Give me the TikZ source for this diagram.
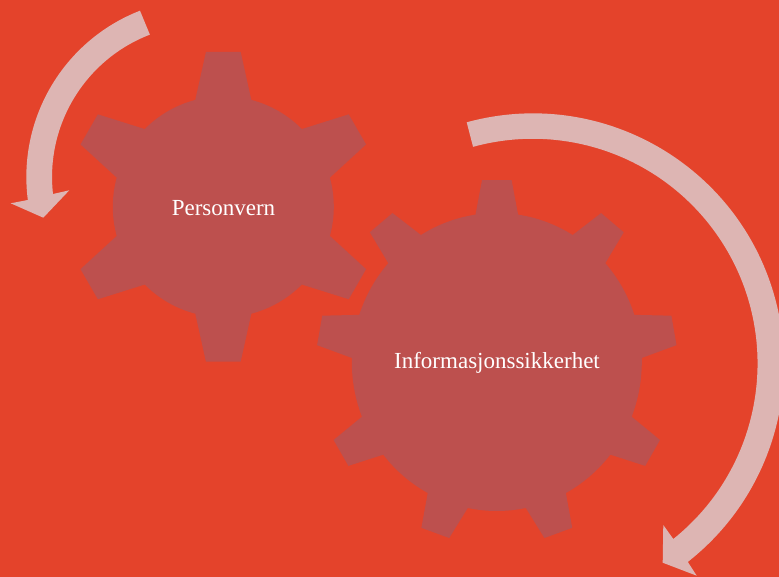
\documentclass[tikz,border=0pt]{standalone}
\usepackage{fontspec}
\setmainfont{Liberation Serif}
\definecolor{bgred}{HTML}{E4432B}
\definecolor{gearred}{HTML}{BD504E}
\definecolor{arrowpink}{HTML}{DDB5B3}
\tikzset{
  gearbody/.style={fill=gearred},
  turnarrow/.style={fill=arrowpink},
  gearlabel/.style={text=white,anchor=base,inner sep=0pt,font=\fontsize{23}{27}\selectfont}
}
% teeth list, step, body x radius, body y radius, tip radii, half angle at base, half angle at tip
\newcommand{\gearoutline}[7]{
  ({-90-#6}:#3 and #4)
  foreach \a in {#1} {
    -- ({\a-#6}:#3 and #4) -- ({\a-#7}:#5) -- ({\a+#7}:#5) -- ({\a+#6}:#3 and #4)
    arc[start angle=\a+#6,end angle=\a+#2-#6,x radius=#3,y radius=#4]
  } -- cycle
}

\begin{document}
\begin{tikzpicture}[x=1pt,y=-1pt]
  \useasboundingbox (0,0) rectangle (779,577);
  \clip (0,0) rectangle (779,577);
  \fill[bgred] (0,0) rectangle (779,577);

  \begin{scope}[shift={(223.3,206.8)}]
    \fill[gearbody] \gearoutline{-90,-30,...,210}{60}{110.5}{110.5}{155.8 and 155.8}{14.7}{6.4};
  \end{scope}
  \begin{scope}[shift={(496.8,362)}]
    \fill[gearbody] \gearoutline{-90,-50,...,230}{40}{145}{149}{180.5 and 182.5}{8.45}{4.7};
  \end{scope}

  \fill[turnarrow] (140,10.7) arc[start angle=248.7,end angle=172.6,radius=178.5]
    -- (10.7,203.3) -- (43.3,217.7) -- (69.3,190.3) -- (53,194)
    arc[start angle=173.6,end angle=249,radius=152.5] -- cycle;
  \fill[turnarrow] (466.7,122.3) arc[start angle=-105.3,end angle=51.9,radius=251]
    -- (696.7,575.7) -- (662.7,562.7) -- (663.3,525) -- (673.3,539)
    arc[start angle=51.3,end angle=-105.4,radius=224.8] -- cycle;

  \node[gearlabel] (personvern) at (223.5,215.5) {Personvern};
  \node[gearlabel] (infosikkerhet) at (497,368) {Informasjonssikkerhet};
\end{tikzpicture}
\end{document}
